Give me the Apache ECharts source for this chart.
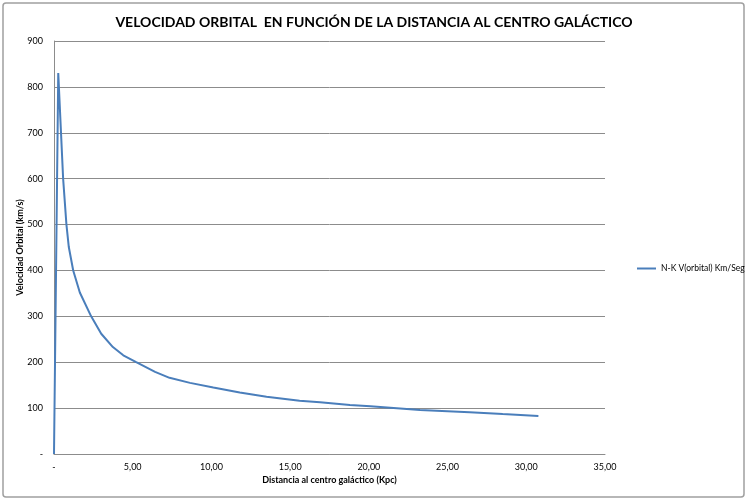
<!DOCTYPE html>
<html>
<head>
<meta charset="utf-8">
<script src="https://cdn.jsdelivr.net/npm/echarts@6/dist/echarts.min.js"></script>
<style>
  html, body { margin: 0; padding: 0; background: #fff; }
  #chart { width: 748px; height: 502px; }
</style>
</head>
<body>
<div id="chart"></div>
<script>
const titleText = 'VELOCIDAD ORBITAL  EN FUNCIÓN DE LA DISTANCIA AL CENTRO GALÁCTICO';
const seriesName = 'N-K V(orbital) Km/Seg';

// distancia (Kpc) y velocidad (km/s)
const distances = [0, 0.27, 0.58, 0.79, 0.94, 1.22, 1.64, 2.36, 3.00, 3.74, 4.40, 5.22, 6.42, 7.34, 8.64, 10.12, 11.80, 13.50, 15.60, 16.90, 18.80, 20.10, 23.25, 26.40, 28.50, 30.77];
const velocities = [0, 830, 600, 500, 451, 400, 352, 300, 262, 233, 215, 200, 179, 166, 155, 145, 134, 125, 116, 113, 107, 104, 96, 91, 87, 83];

const xTicks = { min: 0, max: 35, step: 5 };
const yTicks = { min: 0, max: 900, step: 100 };

const font = 'Lato, "Open Sans", sans-serif';
const gridGrey = '#8c8c8c';

const chart = echarts.init(document.getElementById('chart'));

const points = distances.map((d, i) => [d, velocities[i]]);

chart.setOption({
  animation: false,
  backgroundColor: '#fff',
  title: {
    text: titleText,
    left: 'center',
    top: 10,
    textStyle: { fontFamily: font, fontSize: 14, fontWeight: 'bold', color: '#000' }
  },
  legend: {
    left: 632,
    top: 259,
    icon: 'rect',
    itemWidth: 19,
    itemHeight: 2,
    itemGap: 4,
    textStyle: { fontFamily: font, fontSize: 8.5, color: '#000' },
    data: [seriesName]
  },
  grid: { left: 54, right: 143, top: 41, bottom: 48, outerBoundsMode: 'none', containLabel: false },
  xAxis: {
    type: 'value',
    min: xTicks.min,
    max: xTicks.max,
    interval: xTicks.step,
    name: 'Distancia al centro galáctico (Kpc)',
    nameLocation: 'middle',
    nameGap: 22,
    nameMoveOverlap: false,
    nameTextStyle: { fontFamily: font, fontSize: 9, fontWeight: 'bold', color: '#000' },
    axisLine: { lineStyle: { color: gridGrey } },
    axisTick: { show: false },
    splitLine: { show: false },
    axisLabel: {
      fontFamily: font, fontSize: 9, color: '#000', margin: 9,
      formatter: v => v === 0 ? '-' : v.toFixed(2).replace('.', ',')
    }
  },
  yAxis: {
    type: 'value',
    min: yTicks.min,
    max: yTicks.max,
    interval: yTicks.step,
    name: 'Velocidad Orbital (km/s)',
    nameLocation: 'middle',
    nameGap: 29,
    nameMoveOverlap: false,
    nameTextStyle: { fontFamily: font, fontSize: 9, fontWeight: 'bold', color: '#000' },
    axisLine: { show: true, lineStyle: { color: gridGrey } },
    axisTick: { show: false },
    splitLine: { lineStyle: { color: gridGrey, width: 1 } },
    axisLabel: {
      fontFamily: font, fontSize: 9, color: '#000', margin: 11,
      formatter: v => v === 0 ? '-' : String(v)
    }
  },
  graphic: [{
    type: 'rect',
    shape: { x: 3, y: 3, width: 741, height: 494, r: 3 },
    style: { fill: 'none', stroke: '#a0a0a0', lineWidth: 1.5 },
    silent: true
  }],
  series: [{
    name: seriesName,
    type: 'line',
    data: points,
    symbol: 'none',
    smooth: false,
    lineStyle: { color: '#4a7ebb', width: 2 },
    itemStyle: { color: '#4a7ebb' }
  }]
});
</script>
</body>
</html>
